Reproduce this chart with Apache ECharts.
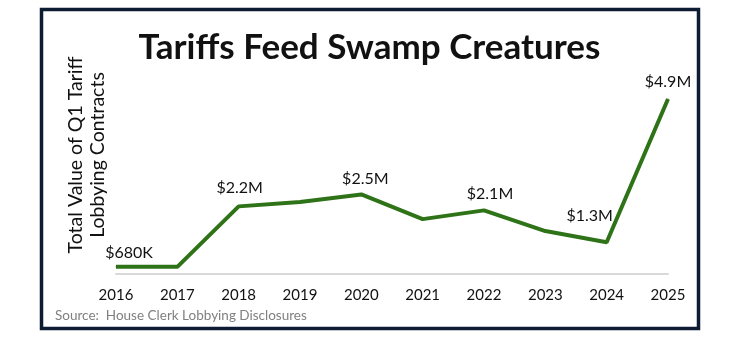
<!DOCTYPE html>
<html>
<head>
<meta charset="utf-8">
<script src="https://cdn.jsdelivr.net/npm/echarts@6/dist/echarts.min.js"></script>
<style>html,body{margin:0;padding:0;background:#fff;}#c{width:739px;height:346px;}</style>
</head>
<body>
<div id="c"></div>
<script>
const years = ['2016','2017','2018','2019','2020','2021','2022','2023','2024','2025'];
const values = [0.68, 0.68, 2.2, 2.31, 2.5, 1.88, 2.1, 1.58, 1.3, 4.9];
const labels = ['$680K', '', '$2.2M', '', '$2.5M', '', '$2.1M', '', '$1.3M', '$4.9M'];
const labelOffsets = [[13,0],[0,0],[1,-5],[0,0],[4,-2],[0,0],[6,-3],[0,0],[-17,-13],[0,-4]];

const chart = echarts.init(document.getElementById('c'), null, {renderer:'canvas'});
const FONT = 'Lato, "Open Sans", sans-serif';
chart.setOption({
  animation: false,
  backgroundColor: '#fff',
  title: {
    text: 'Tariffs Feed Swamp Creatures',
    left: 'center', top: 25,
    textStyle: {fontFamily: FONT, fontWeight: 'bold', fontSize: 35, color: '#111'}
  },
  grid: {left: 116, right: 71, top: 95, bottom: 72},
  xAxis: {
    type: 'category', data: years, boundaryGap: false,
    axisLine: {lineStyle: {color: '#d9d9d9', width: 2}},
    axisTick: {show: false},
    axisLabel: {fontFamily: FONT, fontSize: 15, color: '#111', margin: 14}
  },
  yAxis: {
    type: 'value', min: 0.5, max: 5,
    axisLabel: {show: false}, splitLine: {show: false},
    axisLine: {show: false}, axisTick: {show: false}
  },
  series: [{
    type: 'line',
    data: values.map((v, i) => ({
      value: v,
      label: {show: labels[i] !== '', formatter: labels[i], offset: labelOffsets[i]}
    })),
    symbol: 'circle', symbolSize: 1, showSymbol: true,
    itemStyle: {color: '#2f7318'},
    lineStyle: {color: '#2f7318', width: 4},
    label: {position: 'top', distance: 5, fontFamily: FONT, fontSize: 16, color: '#111'}
  }],
  graphic: [
    {type: 'rect', shape: {x: 41.5, y: 9.5, width: 657, height: 319},
     style: {fill: 'none', stroke: '#0d1b33', lineWidth: 3.5}},
    {type: 'text', x: 76, y: 155, rotation: Math.PI / 2,
     style: {text: 'Total Value of Q1 Tariff', fontFamily: FONT, fontSize: 19.5, fill: '#111',
             align: 'center', verticalAlign: 'middle'}},
    {type: 'text', x: 98, y: 155, rotation: Math.PI / 2,
     style: {text: 'Lobbying Contracts', fontFamily: FONT, fontSize: 19.5, fill: '#111',
             align: 'center', verticalAlign: 'middle'}},
    {type: 'text', x: 55, y: 316,
     style: {text: 'Source:  House Clerk Lobbying Disclosures', fontFamily: FONT, fontSize: 13.5, fill: '#808080',
             align: 'left', verticalAlign: 'middle'}}
  ]
});
</script>
</body>
</html>
